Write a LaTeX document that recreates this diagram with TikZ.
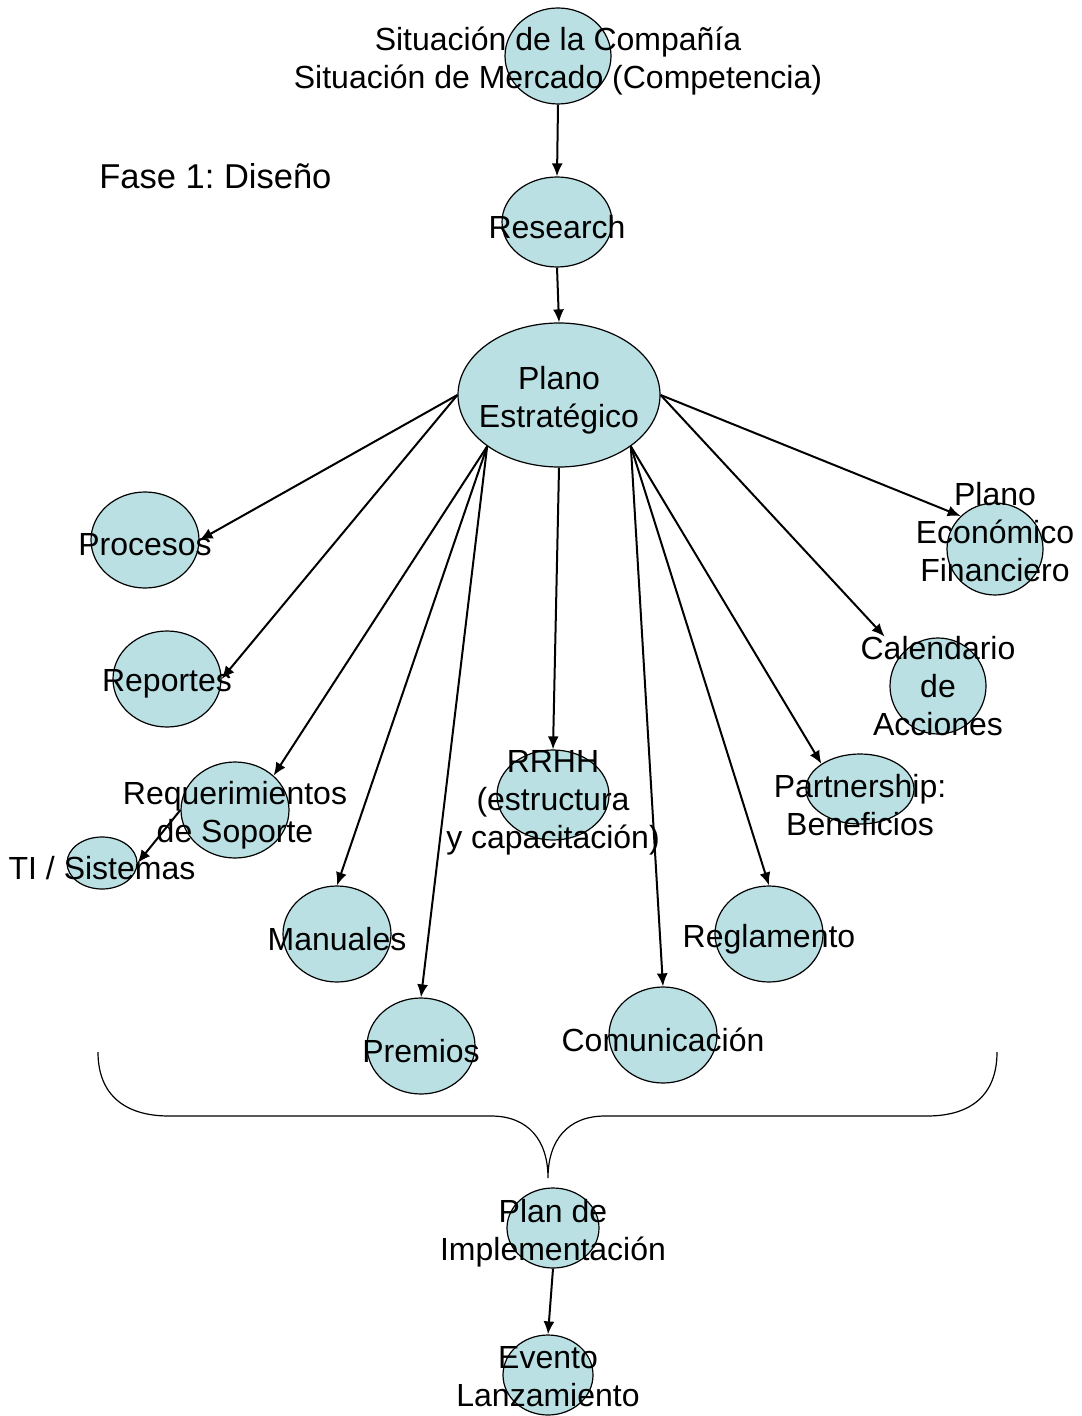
\documentclass[tikz,border=0pt]{standalone}
\usepackage{fontspec}
\setmainfont{Liberation Sans}
\usetikzlibrary{shapes,arrows,arrows.meta}
\definecolor{bubblefill}{RGB}{186,224,227}
\frenchspacing

\begin{document}
\begin{tikzpicture}[x=0.5pt, y=-0.5pt, >={Latex[length=6.5pt,width=5.5pt]}]
\tikzstyle{every node} = [font=\fontsize{16}{19}\selectfont, align=center, inner sep=0pt]
\tikzstyle{every label} = [yshift=-2.5pt]
\tikzstyle{bubble} = [draw, shape=ellipse, fill=bubblefill, line width=0.6pt]
\tikzstyle{link} = [->, line width=1pt]
\useasboundingbox (0,0) rectangle (1081,1416);

\node [bubble, minimum width=53pt, minimum height=48pt, label=center:{Situación de la Compañía\\Situación de Mercado (Competencia)}] (top) at (558,56) {};
\node [anchor=west, font=\fontsize{17.25}{20}\selectfont] (fase) at (99,176) {Fase 1: Diseño};
\node [bubble, minimum width=55pt, minimum height=45pt, label=center:{Research}] (res) at (557,222) {};
\node [bubble, minimum width=101pt, minimum height=72pt, label=center:{Plano\\Estratégico}] (pe) at (559,395) {};

\node [bubble, minimum width=54pt, minimum height=48pt, label=center:{Procesos}] (proc) at (145,540) {};
\node [bubble, minimum width=54pt, minimum height=48pt, label=center:{Reportes}] (rep) at (167,679) {};
\node [bubble, minimum width=54pt, minimum height=48pt, label=center:{Requerimientos\\de Soporte}] (req) at (235,810) {};
\node [bubble, minimum width=35pt, minimum height=26pt, label=center:{TI / Sistemas}] (ti) at (102,863) {};
\node [bubble, minimum width=54pt, minimum height=48pt, label=center:{Manuales}] (man) at (337,934) {};
\node [bubble, minimum width=54pt, minimum height=48pt, label=center:{Premios}] (prem) at (421,1046) {};
\node [bubble, minimum width=56pt, minimum height=45pt, label={[yshift=-1.5pt]center:{RRHH\\(estructura\\y capacitación)}}] (rrhh) at (553,795) {};
\node [bubble, minimum width=54pt, minimum height=48pt, label=center:{Comunicación}] (com) at (663,1035) {};
\node [bubble, minimum width=54pt, minimum height=48pt, label=center:{Reglamento}] (reg) at (769,934) {};
\node [bubble, minimum width=54pt, minimum height=35pt, label={[yshift=-5.5pt]center:{Partnership:\\Beneficios}}] (part) at (860,789) {};
\node [bubble, minimum width=48pt, minimum height=48pt, label={[yshift=2.5pt]center:{Calendario\\de\\Acciones}}] (cal) at (938,686) {};
\node [bubble, minimum width=48pt, minimum height=46pt, label={[yshift=11pt]center:{Plano\\Económico\\Financiero}}] (pef) at (995,549) {};

\node [bubble, minimum width=46pt, minimum height=40pt, label=center:{Plan de\\Implementación}] (impl) at (553,1228) {};
\node [bubble, minimum width=45pt, minimum height=40pt, label={[yshift=1.5pt]center:{Evento\\Lanzamiento}}] (ev) at (548,1375) {};

\draw [link] (top.south) -- (res.north);
\draw [link] (res.south) -- (pe.north);
\draw [link] (pe.west) -- (proc.east);
\draw [link] (pe.west) -- (rep.east);
\draw [link] (pe.south west) -- (req.north east);
\draw [link] (req.west) -- (ti.east);
\draw [link] (pe.south west) -- (man.north);
\draw [link] (pe.south west) -- (prem.north);
\draw [link] (pe.south) -- (rrhh.north);
\draw [link] (pe.south east) -- (com.north);
\draw [link] (pe.south east) -- (reg.north);
\draw [link] (pe.south east) -- (part.north west);
\draw [link] (pe.east) -- ([shift={(-19,-15)}]cal.north west);
\draw [link] (pe.east) -- (pef.north west);
\draw [link] (impl.south) -- (ev.north);

% brace over the design items
\draw [line width=0.6pt] (98,1052) .. controls (98,1095) and (125,1116) .. (169,1116) -- (491,1116)
  .. controls (528,1116) and (548,1140) .. (548,1178)
  .. controls (548,1140) and (568,1116) .. (605,1116) -- (927,1116)
  .. controls (971,1116) and (997,1095) .. (997,1052);
\end{tikzpicture}
\end{document}
